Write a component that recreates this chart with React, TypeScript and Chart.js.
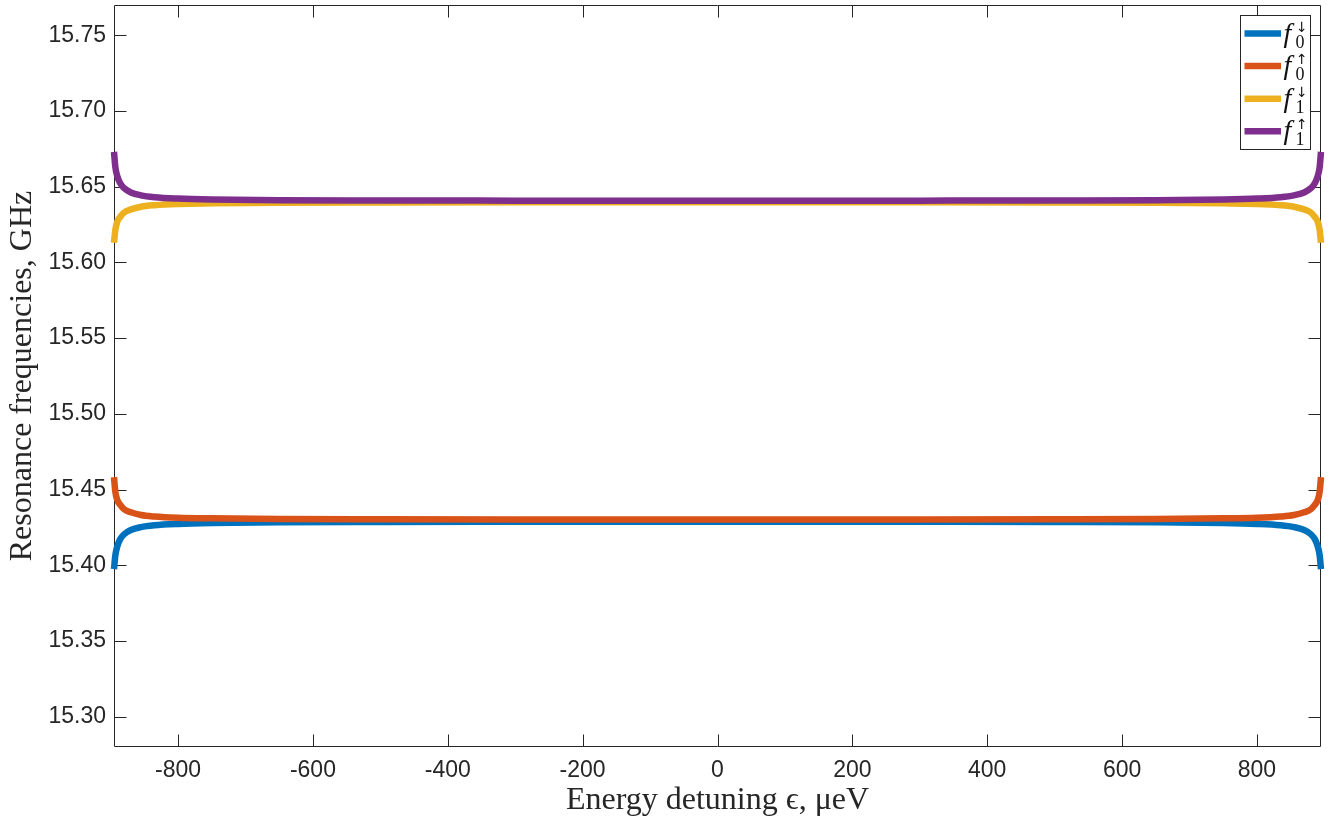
import React, { useEffect, useRef } from "react";
import { Chart, registerables } from "chart.js";

Chart.register(...registerables);

// ---- data ----
const epsilon = [
  -895, -893, -890, -886, -880, -870, -855, -835, -800, -750, -650, -500, -300, -100,
  100, 300, 500, 650, 750, 800, 835, 855, 870, 880, 886, 890, 893, 895,
];

const f0Down = [
  15.3975, 15.4066, 15.4127, 15.4171, 15.4205, 15.4233, 15.4252, 15.4264, 15.4273, 15.4279, 15.4284, 15.4286, 15.4287, 15.4288,
  15.4288, 15.4287, 15.4286, 15.4284, 15.4279, 15.4273, 15.4264, 15.4252, 15.4233, 15.4205, 15.4171, 15.4127, 15.4066, 15.3975,
];

const f0Up = [
  15.4582, 15.4485, 15.443, 15.44, 15.437, 15.435, 15.4332, 15.4322, 15.4314, 15.431, 15.4306, 15.4304, 15.4303, 15.4303,
  15.4303, 15.4303, 15.4304, 15.4306, 15.431, 15.4314, 15.4322, 15.4332, 15.435, 15.437, 15.44, 15.443, 15.4485, 15.4582,
];

const f1Down = [
  15.613, 15.6215, 15.627, 15.63, 15.633, 15.635, 15.6368, 15.6378, 15.6386, 15.639, 15.6394, 15.6396, 15.6397, 15.6397,
  15.6397, 15.6397, 15.6396, 15.6394, 15.639, 15.6386, 15.6378, 15.6368, 15.635, 15.633, 15.63, 15.627, 15.6215, 15.613,
];

const f1Up = [
  15.673, 15.6629, 15.6568, 15.6524, 15.649, 15.6462, 15.6443, 15.6431, 15.6422, 15.6416, 15.6411, 15.6409, 15.6408, 15.6407,
  15.6407, 15.6408, 15.6409, 15.6411, 15.6416, 15.6422, 15.6431, 15.6443, 15.6462, 15.649, 15.6524, 15.6568, 15.6629, 15.673,
];

const seriesLabels = ["f0↓", "f0↑", "f1↓", "f1↑"];
const legendSubs = ["0", "0", "1", "1"];
const legendSups = ["↓", "↑", "↓", "↑"];
const seriesColors = ["#0072BD", "#D95319", "#EDB120", "#7E2F8E"];

const xTicks = [-800, -600, -400, -200, 0, 200, 400, 600, 800];
const yTicks = [15.3, 15.35, 15.4, 15.45, 15.5, 15.55, 15.6, 15.65, 15.7, 15.75];

const xMin = -895;
const xMax = 895;
const yMin = 15.28;
const yMax = 15.77;

const xTitle = "Energy detuning ϵ, μeV";
const yTitle = "Resonance frequencies, GHz";

const AXIS_COLOR = "#262626";

const boxPlugin = {
  id: "matlabBox",
  beforeDatasetsDraw(chart: any) {
    const { ctx, chartArea, scales } = chart;
    const { left, right, top, bottom } = chartArea;
    ctx.save();
    ctx.strokeStyle = AXIS_COLOR;
    ctx.lineWidth = 1;
    const L = Math.round(left) + 0.5;
    const R = Math.round(right) - 0.5;
    const T = Math.round(top) + 0.5;
    const B = Math.round(bottom) - 0.5;
    ctx.beginPath();
    ctx.rect(L, T, R - L, B - T);
    ctx.stroke();
    const tl = 12;
    ctx.beginPath();
    xTicks.forEach((v) => {
      const px = Math.round(scales.x.getPixelForValue(v)) + 0.5;
      ctx.moveTo(px, B);
      ctx.lineTo(px, B - tl);
      ctx.moveTo(px, T);
      ctx.lineTo(px, T + tl);
    });
    yTicks.forEach((v) => {
      const py = Math.round(scales.y.getPixelForValue(v)) + 0.5;
      ctx.moveTo(L, py);
      ctx.lineTo(L + tl, py);
      ctx.moveTo(R, py);
      ctx.lineTo(R - tl, py);
    });
    ctx.stroke();
    ctx.restore();
  },
};

const legendPlugin = {
  id: "matlabLegend",
  afterDraw(chart: any) {
    const { ctx, chartArea } = chart;
    ctx.save();
    const bx = Math.round(chartArea.right) - 81 + 0.5;
    const by = Math.round(chartArea.top) + 10 + 0.5;
    const bw = 70;
    const bh = 134;
    ctx.fillStyle = "#ffffff";
    ctx.fillRect(bx, by, bw, bh);
    ctx.strokeStyle = AXIS_COLOR;
    ctx.lineWidth = 1;
    ctx.strokeRect(bx, by, bw, bh);
    seriesLabels.forEach((_, i) => {
      const y = by + 18 + i * 32.6;
      ctx.strokeStyle = seriesColors[i];
      ctx.lineWidth = 6.5;
      ctx.lineCap = "butt";
      ctx.beginPath();
      ctx.moveTo(bx + 4, y);
      ctx.lineTo(bx + 40.5, y);
      ctx.stroke();
      ctx.fillStyle = "#111111";
      ctx.textBaseline = "alphabetic";
      ctx.textAlign = "left";
      ctx.font = "italic 28px 'Liberation Serif'";
      ctx.fillText("f", bx + 43, y + 8);
      ctx.font = "18px 'Liberation Serif'";
      ctx.fillText(legendSubs[i], bx + 55, y + 14);
      ctx.font = "14px 'DejaVu Sans'";
      ctx.fillText(legendSups[i], bx + 55.5, y - 2);
    });
    ctx.restore();
  },
};

export default function App() {
  const canvasRef = useRef<HTMLCanvasElement | null>(null);

  useEffect(() => {
    if (!canvasRef.current) return;
    const seriesData = [f0Down, f0Up, f1Down, f1Up];
    const chart = new Chart(canvasRef.current, {
      type: "line",
      data: {
        datasets: seriesData.map((arr, i) => ({
          label: seriesLabels[i],
          data: epsilon.map((x, j) => ({ x, y: arr[j] })),
          borderColor: seriesColors[i],
          backgroundColor: seriesColors[i],
          borderWidth: 6.5,
          pointRadius: 0,
          fill: false,
          cubicInterpolationMode: "monotone" as const,
          order: 4 - i,
          clip: 6,
        })),
      },
      options: {
        animation: false,
        responsive: false,
        events: [],
        layout: { padding: { top: 5, right: 9, left: 0, bottom: 0 } },
        plugins: {
          legend: { display: false },
          tooltip: { enabled: false },
        },
        scales: {
          x: {
            type: "linear",
            min: xMin,
            max: xMax,
            afterBuildTicks: (scale: any) => {
              scale.ticks = xTicks.map((v) => ({ value: v }));
            },
            afterFit: (scale: any) => {
              scale.height = 75;
              scale.paddingLeft = 0;
              scale.paddingRight = 0;
            },
            grid: { display: false, drawTicks: false },
            border: { display: false },
            ticks: {
              autoSkip: false,
              maxRotation: 0,
              minRotation: 0,
              padding: 10,
              color: AXIS_COLOR,
              font: { family: "'Liberation Sans', Arial, sans-serif", size: 23 },
              callback: (v: any) => String(v),
            },
            title: {
              display: true,
              text: xTitle,
              color: AXIS_COLOR,
              font: { family: "'Liberation Serif', serif", size: 32, lineHeight: 1 },
              padding: { top: 0, bottom: 5 },
            },
          },
          y: {
            type: "linear",
            min: yMin,
            max: yMax,
            afterBuildTicks: (scale: any) => {
              scale.ticks = yTicks.map((v) => ({ value: v }));
            },
            afterFit: (scale: any) => {
              scale.width = 114;
              scale.paddingTop = 0;
              scale.paddingBottom = 0;
            },
            grid: { display: false, drawTicks: false },
            border: { display: false },
            ticks: {
              padding: 8,
              color: AXIS_COLOR,
              font: { family: "'Liberation Sans', Arial, sans-serif", size: 23 },
              callback: (v: any) => Number(v).toFixed(2),
            },
            title: {
              display: true,
              text: yTitle,
              color: AXIS_COLOR,
              font: { family: "'Liberation Serif', serif", size: 32, lineHeight: 1 },
              padding: { top: 7, bottom: 0 },
            },
          },
        },
      },
      plugins: [boxPlugin, legendPlugin],
    });
    return () => chart.destroy();
  }, []);

  return (
    <div style={{ position: "absolute", left: 0, top: 0, width: 1330, height: 822, background: "#ffffff" }}>
      <canvas ref={canvasRef} width={1330} height={822} style={{ display: "block" }} />
    </div>
  );
}
